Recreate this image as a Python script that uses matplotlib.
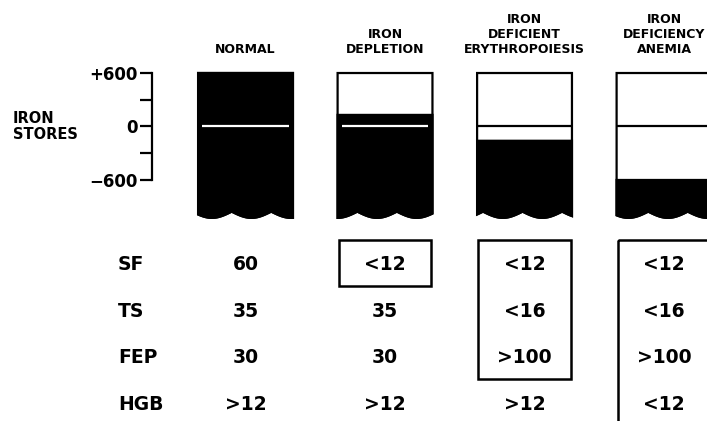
import numpy as np
import matplotlib
matplotlib.use("Agg")
import matplotlib.pyplot as plt
from matplotlib.patches import Polygon, Rectangle
from matplotlib.transforms import blended_transform_factory

# ---------------- data ----------------
stages = ["NORMAL", "IRON\nDEPLETION", "IRON\nDEFICIENT\nERYTHROPOIESIS",
          "IRON\nDEFICIENCY\nANEMIA"]
store_level = [600, 130, -160, -600]      # top of remaining (black) iron in each bar
scale_top = 600
scale_ticks = [-600, -300, 0, 300, 600]
scale_labels = ["\u2212600", "", "0", "", "+600"]
row_labels = ["SF", "TS", "FEP", "HGB"]
sf_vals = ["60", "<12", "<12", "<12"]
ts_vals = ["35", "35", "<16", "<16"]
fep_vals = ["30", "30", ">100", ">100"]
hgb_vals = [">12", ">12", ">12", "<12"]
boxed_rows = [0, 1, 3, 4]                 # number of table rows boxed in each column

table = [sf_vals, ts_vals, fep_vals, hgb_vals]

plt.rcParams["font.family"] = ["DejaVu Sans"]
plt.rcParams["font.weight"] = "bold"

W, H = 707, 421
fig = plt.figure(figsize=(W / 100, H / 100), dpi=100)


def fy(px):
    return 1 - px / H


XLIM = (-1.760, 3.308)
half = 0.34

# ---------------- iron stores bars ----------------
ax = fig.add_axes([0, fy(225), 1, (225 - 60) / H])
ax.set_xlim(*XLIM)
ax.set_ylim(-1105, 746)
for s in ["top", "right", "bottom"]:
    ax.spines[s].set_visible(False)
ax.spines["left"].set_position(("data", -0.67))
ax.spines["left"].set_bounds(-600, 600)
ax.spines["left"].set_linewidth(1.6)
ax.set_xticks([])
ax.set_yticks(scale_ticks)
ax.set_yticklabels(scale_labels)
ax.tick_params(axis="y", length=8.6, width=1.6, pad=2, labelsize=12)
ax.patch.set_alpha(0)

u = np.linspace(0, 1, 300)
for i, lvl in enumerate(store_level):
    xs = i - half + 2 * half * u
    bottom = -955 - 70 * np.abs(np.sin(np.pi * (2.4 * u + 0.15 + 0.35 * i)))
    wave = list(zip(xs[::-1], bottom[::-1]))
    outline = Polygon([(i - half, scale_top), (i + half, scale_top)] + wave,
                      closed=True, facecolor="white", edgecolor="black", lw=1.6,
                      joinstyle="miter")
    ax.add_patch(outline)
    fill = Polygon([(i - half, lvl), (i + half, lvl)] + wave, closed=True,
                   facecolor="black", edgecolor="black", lw=1.6)
    ax.add_patch(fill)
    if lvl > 0:
        ax.plot([i - half + 0.03, i + half - 0.03], [0, 0], color="white", lw=1.6,
                solid_capstyle="butt")
    else:
        ax.plot([i - half, i + half], [0, 0], color="black", lw=1.6,
                solid_capstyle="butt")

ax.text(-1.667, 0, "IRON\nSTORES", ha="left", va="center", fontsize=10.5,
        linespacing=1.15)

# stage headers
trans = blended_transform_factory(ax.transData, fig.transFigure)
for i, name in enumerate(stages):
    ax.text(i, fy(56), name, ha="center", va="bottom", fontsize=9,
            linespacing=1.2, transform=trans)

# ---------------- lab value table ----------------
tax = fig.add_axes([0, 0, 1, fy(225)])
tax.set_xlim(*XLIM)
tax.set_ylim(3.41, -0.82)
tax.axis("off")

for r, lab in enumerate(row_labels):
    tax.text(-0.914, r, lab, ha="left", va="center_baseline", fontsize=13.5)
    for c, val in enumerate(table[r]):
        tax.text(c, r, val, ha="center", va="center_baseline", fontsize=13.5)

for c, n in enumerate(boxed_rows):
    if n:
        tax.add_patch(Rectangle((c - half + 0.01, -0.5), 2 * half - 0.02, n,
                                fill=False, edgecolor="black", lw=1.8))

fig.savefig("out.png", dpi=100)
